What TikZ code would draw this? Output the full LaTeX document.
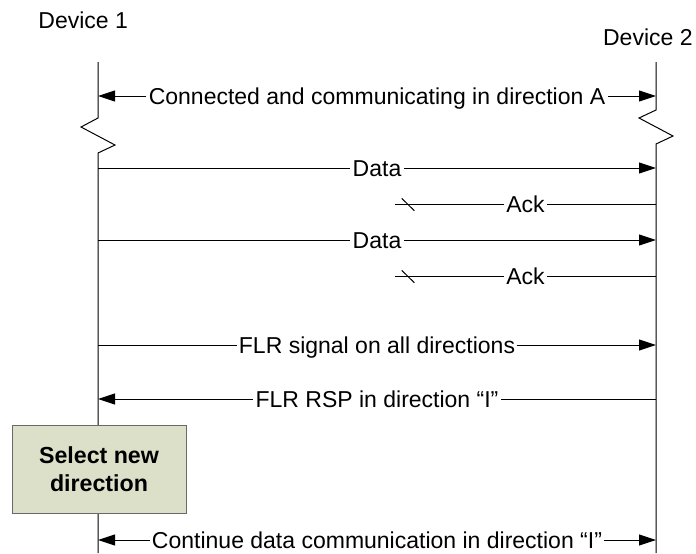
\documentclass[tikz,border=0pt]{standalone}
\usepackage{fontspec}
\setmainfont{Liberation Sans}
\usetikzlibrary{arrows.meta,calc}
\definecolor{boxfill}{RGB}{221,224,200}
\definecolor{boxline}{RGB}{105,105,105}
\tikzset{
  lifeline/.style={line width=0.5pt, black},
  msg/.style={line width=0.5pt, -{Triangle[length=8.5pt,width=5.5pt]}},
  bimsg/.style={line width=0.5pt, {Triangle[length=8.5pt,width=5.5pt]}-{Triangle[length=8.5pt,width=5.5pt]}},
  plain/.style={line width=0.5pt},
  lbl/.style={fill=white, inner xsep=1.2pt, inner ysep=0pt, text height=8.2pt, text depth=0pt},
  devlbl/.style={inner sep=0pt},
  selbox/.style={draw=boxline, fill=boxfill, line width=0.5pt, minimum width=87pt, minimum height=44pt, inner sep=0pt, align=center, font=\bfseries\fontsize{11.6pt}{14.15pt}\selectfont}
}
\begin{document}
\begin{tikzpicture}[x=0.5pt, y=-0.5pt, font=\fontsize{11.5pt}{14.15pt}\selectfont]
\useasboundingbox (0,0) rectangle (696,553);
% device labels
\node[devlbl, anchor=base west] (dev1) at (38,28) {Device 1};
\node[devlbl, anchor=base east] (dev2) at (693,45) {Device 2};
% lifeline coordinates
\coordinate (L0) at (98,62);
\coordinate (Lz1) at (98,118);
\coordinate (Lz2) at (81,127);
\coordinate (Lz3) at (115,145);
\coordinate (Lz4) at (98,153);
\coordinate (Lend) at (98,553);
\coordinate (R0) at (656,62);
\coordinate (Rz1) at (656,110);
\coordinate (Rz2) at (639,118);
\coordinate (Rz3) at (673,136);
\coordinate (Rz4) at (656,144);
\coordinate (Rend) at (656,553);
\draw[lifeline] (L0) -- (Lz1) -- (Lz2) -- (Lz3) -- (Lz4) -- (Lend);
\draw[lifeline] (R0) -- (Rz1) -- (Rz2) -- (Rz3) -- (Rz4) -- (Rend);
% message endpoints
\coordinate (a1) at (98,96);  \coordinate (b1) at (656,96);
\coordinate (a2) at (98,168); \coordinate (b2) at (656,168);
\coordinate (a3) at (395,204); \coordinate (b3) at (656,204);
\coordinate (a4) at (98,240); \coordinate (b4) at (656,240);
\coordinate (a5) at (395,276); \coordinate (b5) at (656,276);
\coordinate (a6) at (98,345); \coordinate (b6) at (656,345);
\coordinate (a7) at (98,399); \coordinate (b7) at (656,399);
\coordinate (a8) at (98,540); \coordinate (b8) at (656,540);
\coordinate (s3a) at (401.7,198.3); \coordinate (s3b) at (414.3,210.7);
\coordinate (s5a) at (401.7,270.3); \coordinate (s5b) at (414.3,282.7);
% messages
\draw[bimsg] (a1) -- node[lbl] {Connected and communicating in direction A} (b1);
\draw[msg] (a2) -- node[lbl] {Data} (b2);
\draw[plain] (b3) -- node[lbl] {Ack} (a3);
\draw[plain] (s3a) -- (s3b);
\draw[msg] (a4) -- node[lbl] {Data} (b4);
\draw[plain] (b5) -- node[lbl] {Ack} (a5);
\draw[plain] (s5a) -- (s5b);
\draw[msg] (a6) -- node[lbl] {FLR signal on all directions} (b6);
\draw[msg] (b7) -- node[lbl] {FLR RSP in direction “I”} (a7);
\draw[bimsg] (a8) -- node[lbl] {Continue data communication in direction “I”} (b8);
% box
\node[selbox] (sel) at (99,469) {Select new\\direction};
\end{tikzpicture}
\end{document}
